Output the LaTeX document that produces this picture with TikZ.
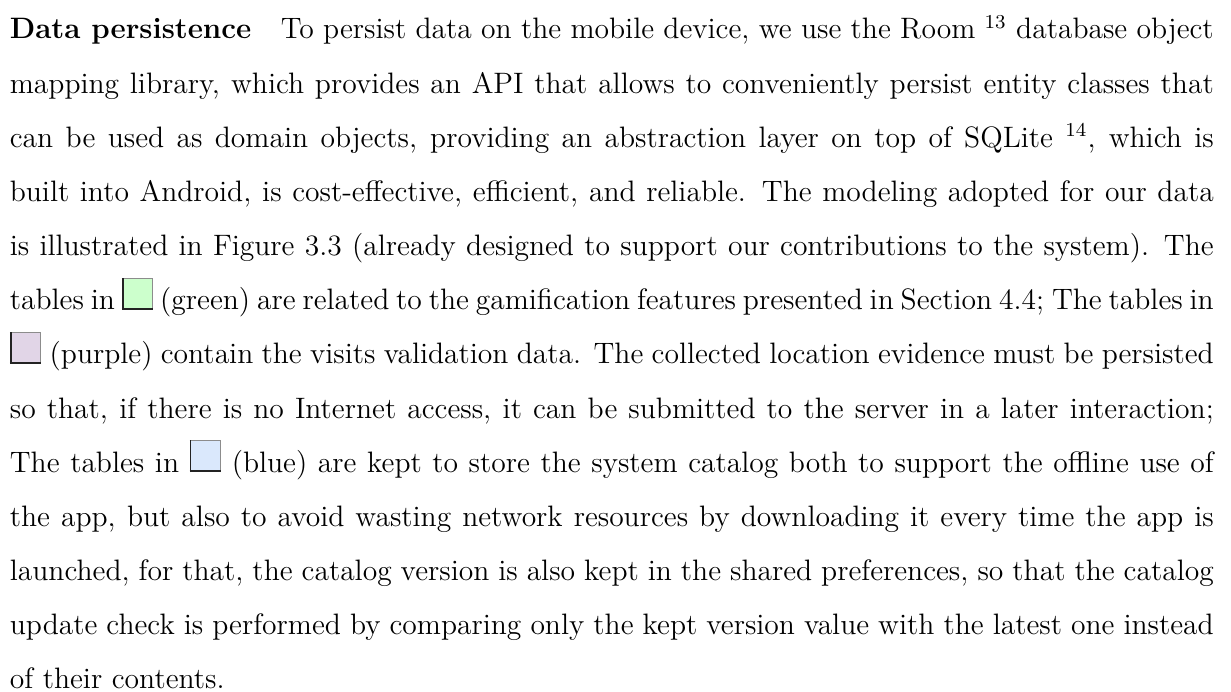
\documentclass[tikz,border=0pt]{standalone}
\usepackage{xcolor}

% swatch colours used for the table groups
\definecolor{swgreen}{RGB}{204,255,204}
\definecolor{swpurple}{RGB}{225,213,231}
\definecolor{swblue}{RGB}{218,232,252}
\definecolor{swedge}{RGB}{140,140,140}
\definecolor{swdark}{RGB}{35,35,35}

\newlength\swW \setlength\swW{12.8pt}
\newlength\swH \setlength\swH{13pt}

% small inline colour square: light edge top/right, dark edge left/bottom
\newcommand{\swatch}[1]{%
  \leavevmode\makebox[\swW][l]{%
    \rlap{\color{#1}\rule{\swW}{\swH}}%
    \rlap{\color{swedge}\rule[\dimexpr\swH-0.45pt\relax]{\swW}{0.45pt}}%
    \rlap{\hspace{\dimexpr\swW-0.45pt\relax}\color{swedge}\rule{0.45pt}{\swH}}%
    \rlap{\color{swdark}\rule{0.7pt}{\swH}}%
    \rlap{\color{swdark}\rule{\swW}{0.7pt}}%
  }}

\tikzset{
  bodytext/.style={inner sep=0pt, outer sep=0pt, anchor=base west}
}

\begin{document}
\begin{tikzpicture}
\useasboundingbox (0,0) rectangle (500pt,280.7pt);
\node[bodytext] (para) at (4pt,264.9pt) {\parbox[t]{489pt}{%
  \fontsize{12}{22}\selectfont
  \tolerance=10000 \hbadness=10000 \parindent=0pt
  \textbf{Data persistence}\hspace{1em}To persist data on the mobile device, we use the Room $^{13}$ database object\linebreak
  mapping library, which provides an API that allows to conveniently persist entity classes that\linebreak
  can be used as domain objects, providing an abstraction layer on top of SQLite $^{14}$, which is\linebreak
  built into Android, is cost-effective, efficient, and reliable. The modeling adopted for our data\linebreak
  is illustrated in Figure 3.3 (already designed to support our contributions to the system). The\linebreak
  tables in \swatch{swgreen} (green) are related to the gamification features presented in Section 4.4; The tables in\linebreak
  \swatch{swpurple} (purple) contain the visits validation data. The collected location evidence must be persisted\linebreak
  so that, if there is no Internet access, it can be submitted to the server in a later interaction;\linebreak
  The tables in \swatch{swblue} (blue) are kept to store the system catalog both to support the offline use of\linebreak
  the app, but also to avoid wasting network resources by downloading it every time the app is\linebreak
  launched, for that, the catalog version is also kept in the shared preferences, so that the catalog\linebreak
  update check is performed by comparing only the kept version value with the latest one instead\linebreak
  of their contents.}};
\end{tikzpicture}
\end{document}
